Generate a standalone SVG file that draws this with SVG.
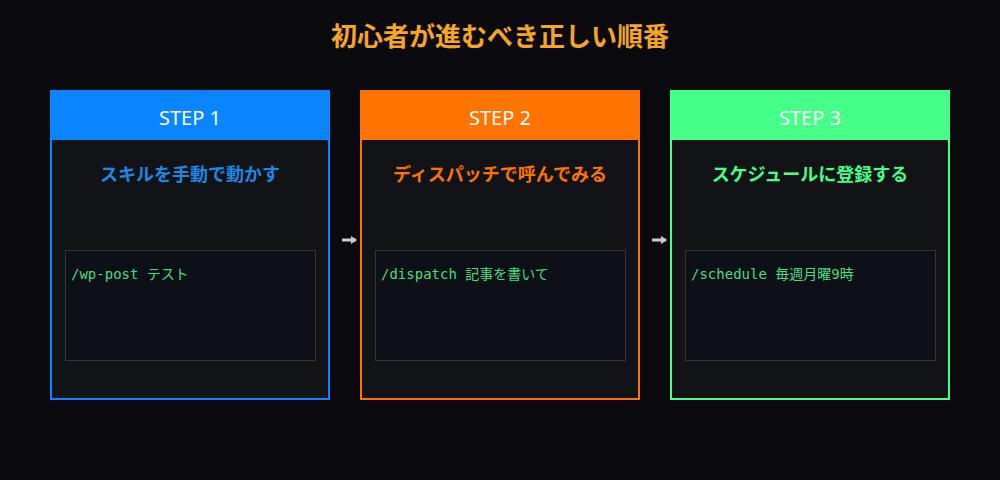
<svg xmlns="http://www.w3.org/2000/svg" width="1000" height="480" viewBox="0 0 1000 480">
<style>
.f{font-family:"Noto Sans CJK JP","Noto Sans",sans-serif}
.card{fill:#121317;stroke-width:2}
.hd{fill:#fff;font-size:20px;text-anchor:middle;font-family:"Noto Sans","Noto Sans CJK JP",sans-serif}
.sub{font-size:18px;font-weight:bold;text-anchor:middle}
.code{fill:#0d1017;stroke:#34363a;stroke-width:1}
.ct{fill:#4ade80;font-size:14px;font-family:"DejaVu Sans Mono","Noto Sans CJK JP",monospace}
</style>
<defs><marker id="ah" markerWidth="6" markerHeight="8" refX="5" refY="4" orient="auto" markerUnits="userSpaceOnUse"><path d="M0,0L6,4L0,8z" fill="#ccc"/></marker></defs>
<rect width="1000" height="480" fill="#0b0b0f"/>
<text x="500" y="46" class="f" font-size="26" font-weight="bold" fill="#f5a623" text-anchor="middle">初心者が進むべき正しい順番</text>
<g id="step1">
<rect x="51" y="91" width="278" height="308" class="card" stroke="#0a84ff"/>
<rect x="50" y="90" width="280" height="50" fill="#0a84ff"/>
<text x="190" y="125" class="hd">STEP 1</text>
<text x="190" y="181" class="f sub" fill="#1e88e5">スキルを手動で動かす</text>
<rect x="65.5" y="250.5" width="250" height="110" class="code"/>
<text x="71" y="279" class="ct">/wp-post テスト</text>
</g>
<g id="step2">
<rect x="361" y="91" width="278" height="308" class="card" stroke="#ff7300"/>
<rect x="360" y="90" width="280" height="50" fill="#ff7300"/>
<text x="500" y="125" class="hd">STEP 2</text>
<text x="500" y="181" class="f sub" fill="#ff7300">ディスパッチで呼んでみる</text>
<rect x="375.5" y="250.5" width="250" height="110" class="code"/>
<text x="381" y="279" class="ct">/dispatch 記事を書いて</text>
</g>
<g id="step3">
<rect x="671" y="91" width="278" height="308" class="card" stroke="#44ff88"/>
<rect x="670" y="90" width="280" height="50" fill="#44ff88"/>
<text x="810" y="125" class="hd">STEP 3</text>
<text x="810" y="181" class="f sub" fill="#44ff88">スケジュールに登録する</text>
<rect x="685.5" y="250.5" width="250" height="110" class="code"/>
<text x="691" y="279" class="ct">/schedule 毎週月曜9時</text>
</g>
<g id="connectors" stroke="#ccc" stroke-width="3">
<line x1="342" y1="240" x2="356" y2="240" marker-end="url(#ah)"/>
<line x1="652" y1="240" x2="666" y2="240" marker-end="url(#ah)"/>
</g>
</svg>
